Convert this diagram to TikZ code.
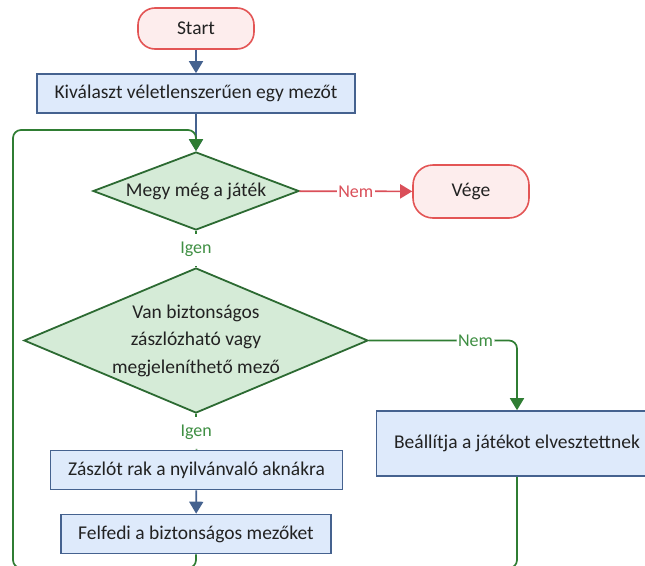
\documentclass[tikz,border=0pt]{standalone}
\usepackage{fontspec}
\setmainfont{Carlito}
\usepackage{tikz}
\usetikzlibrary{shapes.geometric,arrows.meta,positioning}
\definecolor{termred}{HTML}{E35555}
\definecolor{termfill}{HTML}{FDEDED}
\definecolor{procblue}{HTML}{45628F}
\definecolor{procfill}{HTML}{DEEAFB}
\definecolor{decgreen}{HTML}{2C6A32}
\definecolor{decfill}{HTML}{D5EBD7}
\definecolor{yesgreen}{HTML}{2F7D33}
\definecolor{lblgreen}{HTML}{3F8F43}
\definecolor{nored}{HTML}{DA4F59}
\definecolor{txtgray}{HTML}{222222}
\newcommand{\MainFont}{\fontsize{19.5}{27.5}\selectfont}
\newcommand{\LblFont}{\fontsize{18}{20}\selectfont}
\tikzset{
	terminal/.style={draw=termred, fill=termfill, line width=1.6pt, rounded corners=17pt,
		minimum width=116pt, text=txtgray, font=\MainFont},
	process/.style={draw=procblue, fill=procfill, line width=1.6pt, inner xsep=17.5pt,
		minimum height=39pt, text=txtgray, font=\MainFont},
	decision/.style={diamond, draw=decgreen, fill=decfill, line width=1.8pt, inner sep=0pt,
		align=center, text=txtgray, font=\MainFont},
	tip/.style={-{Triangle[length=12pt,width=14pt]}},
	flow/.style={draw=procblue, line width=1.7pt, tip},
	yesflow/.style={draw=yesgreen, line width=1.7pt, rounded corners=8pt},
	noflow/.style={draw=nored, line width=1.7pt, tip},
	lbl/.style={fill=white, inner sep=1.5pt, font=\LblFont}
}
\begin{document}
\begin{tikzpicture}[x=1pt, y=-1pt]
			\useasboundingbox (0,0) rectangle (645,565);
			\clip (0,0) rectangle (645,565);

			% Define nodes
			\node[terminal, minimum height=41pt] (start) at (196,28.5) {Start};
			\node[process] (kival) at (196,93.5) {Kiválaszt véletlenszerűen egy mezőt};
			\node[decision, aspect=2.65, minimum width=206pt, minimum height=78pt] (megy) at (196,191) {Megy még a játék};
			\node[terminal, minimum height=53pt, rounded corners=20pt] (vege) at (471,191.5) {Vége};
			\node[decision, aspect=2.37, minimum width=344pt, minimum height=145pt] (biztos) at (196,340.5)
				{Van biztonságos\\zászlózható vagy\\megjeleníthető mező};
			\node[process, minimum width=276pt, minimum height=65pt] (vesztett) at (517,443.5) {Beállítja a játékot elvesztettnek};
			\node[process] (zaszlo) at (196.5,470) {Zászlót rak a nyilvánvaló aknákra};
			\node[process] (felfedi) at (196,534) {Felfedi a biztonságos mezőket};

			% Loop corners
			\coordinate (loopbot) at (13,568);
			\coordinate (looptop) at (13,130);

			% Connect the nodes
			\draw[flow] (start) -- (kival);
			\draw[flow] (kival) -- (megy);
			\draw[noflow] (megy) -- node[lbl, text=nored] {Nem} (vege);
			\draw[yesgreen, line width=1.7pt, dash pattern=on 3pt off 32pt on 3pt off 100pt]
				(megy.south) -- node[lbl, text=lblgreen] {Igen} (biztos.north);
			\draw[yesflow, tip] (biztos.east) -| node[lbl, text=lblgreen, pos=0.36] {Nem} (vesztett.north);
			\draw[yesgreen, line width=1.7pt, dash pattern=on 3pt off 32pt on 3pt off 100pt]
				(biztos.south) -- node[lbl, text=lblgreen] {Igen} (zaszlo.north);
			\draw[flow] (zaszlo) -- (felfedi);
			\draw[yesflow] (vesztett.south) |- (loopbot);
			\draw[yesflow, tip] (felfedi.south) |- (loopbot) -- (looptop) -| (megy.north);
\end{tikzpicture}
\end{document}
